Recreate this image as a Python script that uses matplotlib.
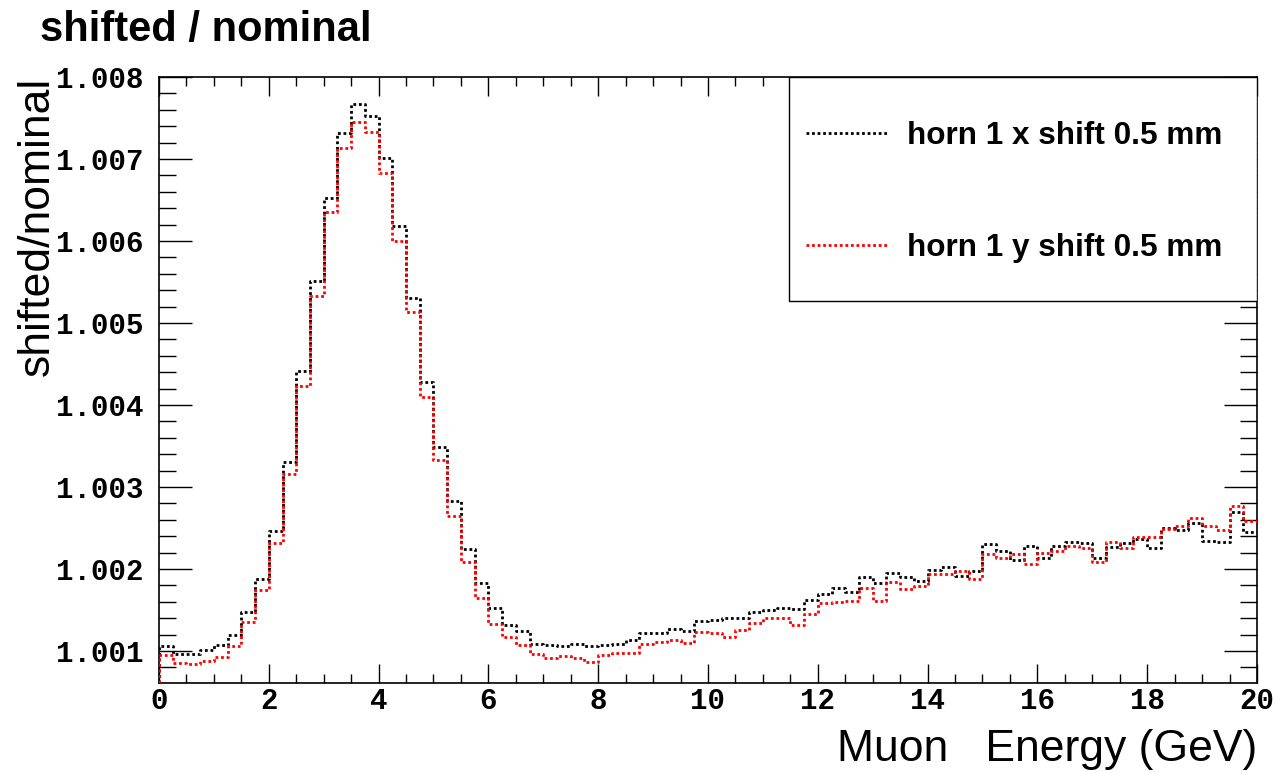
import numpy as np
import matplotlib
matplotlib.use("Agg")
import matplotlib.pyplot as plt
from matplotlib.patches import Rectangle
from matplotlib.ticker import MultipleLocator, FormatStrFormatter

# ---- data (80 bins of 0.25 GeV from 0 to 20) ----
bin_edges = np.linspace(0.0, 20.0, 81)

ratio_x_shift = [
    1.00106, 1.00096, 1.00096, 1.00101, 1.00107, 1.00120, 1.00147, 1.00188,
    1.00246, 1.00330, 1.00441, 1.00551, 1.00653, 1.00732, 1.00767, 1.00752,
    1.00701, 1.00618, 1.00530, 1.00428, 1.00349, 1.00283, 1.00225, 1.00183,
    1.00152, 1.00132, 1.00124, 1.00109, 1.00107, 1.00106, 1.00109, 1.00106,
    1.00107, 1.00109, 1.00113, 1.00122, 1.00122, 1.00127, 1.00124, 1.00136,
    1.00138, 1.00140, 1.00140, 1.00148, 1.00150, 1.00152, 1.00151, 1.00162,
    1.00170, 1.00177, 1.00172, 1.00190, 1.00183, 1.00195, 1.00190, 1.00185,
    1.00199, 1.00202, 1.00191, 1.00197, 1.00231, 1.00222, 1.00211, 1.00228,
    1.00214, 1.00228, 1.00233, 1.00232, 1.00214, 1.00227, 1.00232, 1.00236,
    1.00226, 1.00250, 1.00248, 1.00256, 1.00234, 1.00233, 1.00270, 1.00245,
]

ratio_y_shift = [
    1.00095, 1.00085, 1.00084, 1.00088, 1.00093, 1.00106, 1.00135, 1.00174,
    1.00232, 1.00316, 1.00423, 1.00533, 1.00635, 1.00713, 1.00745, 1.00733,
    1.00683, 1.00600, 1.00513, 1.00410, 1.00333, 1.00265, 1.00209, 1.00165,
    1.00133, 1.00117, 1.00107, 1.00096, 1.00091, 1.00094, 1.00091, 1.00087,
    1.00095, 1.00097, 1.00097, 1.00108, 1.00111, 1.00114, 1.00110, 1.00123,
    1.00122, 1.00117, 1.00126, 1.00134, 1.00140, 1.00140, 1.00132, 1.00145,
    1.00159, 1.00160, 1.00161, 1.00177, 1.00161, 1.00184, 1.00176, 1.00179,
    1.00194, 1.00194, 1.00197, 1.00188, 1.00218, 1.00213, 1.00218, 1.00206,
    1.00219, 1.00222, 1.00228, 1.00226, 1.00208, 1.00233, 1.00226, 1.00239,
    1.00239, 1.00249, 1.00252, 1.00262, 1.00252, 1.00248, 1.00277, 1.00259,
]

series_labels = ["horn 1 x shift 0.5 mm", "horn 1 y shift 0.5 mm"]
series_colors = ["black", "red"]
title_text = "shifted / nominal"
x_label = "Muon   Energy (GeV)"
y_label = "shifted/nominal"

# ---- figure ----
W, H = 1277, 773
fig = plt.figure(figsize=(W / 100, H / 100), dpi=100)
ax = fig.add_axes([159 / W, (H - 683) / H, (1257 - 159) / W, (683 - 77) / H])

ylo, yhi = 1.00061, 1.008
ax.set_xlim(0, 20)
ax.set_ylim(ylo, yhi)

dot = (0, (1.0, 1.0))
handles = []
for vals, col, lab in zip([ratio_x_shift, ratio_y_shift], series_colors, series_labels):
    vals = np.asarray(vals)
    # ROOT "hist" outline: rises from the frame bottom at the first edge
    xs = np.concatenate([[bin_edges[0]], bin_edges])
    ys = np.concatenate([[ylo], vals, [vals[-1]]])
    ax.plot(xs, ys, drawstyle="steps-post", color=col, linewidth=2.0,
            linestyle=dot, zorder=3, clip_on=True)
    h, = ax.plot([], [], color=col, linewidth=2.0, linestyle=dot)
    handles.append(h)

# ticks (ROOT style, inside, all four sides)
ax.xaxis.set_major_locator(MultipleLocator(2))
ax.xaxis.set_minor_locator(MultipleLocator(0.5))
ax.yaxis.set_major_locator(MultipleLocator(0.001))
ax.yaxis.set_minor_locator(MultipleLocator(0.0002))
ax.yaxis.set_major_formatter(FormatStrFormatter("%.3f"))
ax.tick_params(axis="x", which="major", direction="in", length=13.5, width=1.0,
               top=True, bottom=True, pad=3)
ax.tick_params(axis="x", which="minor", direction="in", length=6.8, width=1.0,
               top=True, bottom=True)
ax.tick_params(axis="y", which="major", direction="in", length=23.8, width=1.0,
               left=True, right=True, pad=11)
ax.tick_params(axis="y", which="minor", direction="in", length=11.9, width=1.0,
               left=True, right=True)
for lab in ax.get_xticklabels() + ax.get_yticklabels():
    lab.set_fontfamily("Liberation Mono")
    lab.set_fontweight("bold")
    lab.set_fontsize(21)
for sp in ax.spines.values():
    sp.set_linewidth(1.2)

# axis titles
ax.set_xlabel(x_label, fontsize=32, fontfamily="Liberation Sans", loc="right",
              labelpad=10)
ax.set_ylabel(y_label, fontsize=32, fontfamily="Liberation Sans", loc="top",
              labelpad=-1)

# title
fig.text(40 / W, 1 - 41 / H, title_text, fontsize=30, fontweight="bold",
         fontfamily="Liberation Sans", ha="left", va="baseline")

# legend box
bx0 = (789 - 159) / 1098
by0 = (683 - 301) / 606
box = Rectangle((bx0, by0), 1 - bx0, 1 - by0, transform=ax.transAxes,
                facecolor="white", edgecolor="black", linewidth=1.0, zorder=4)
ax.add_patch(box)
leg = ax.legend(handles, series_labels, loc="center left",
                bbox_to_anchor=(bx0 - 5 / 1098, (by0 + 1) / 2 - 3 / 606),
                frameon=False, prop={"family": "Liberation Sans", "weight": "bold",
                                      "size": 22.7},
                handlelength=2.6, handletextpad=0.6, labelspacing=2.6,
                borderpad=0.2)
leg.set_zorder(5)

fig.savefig("out.png", dpi=100)
